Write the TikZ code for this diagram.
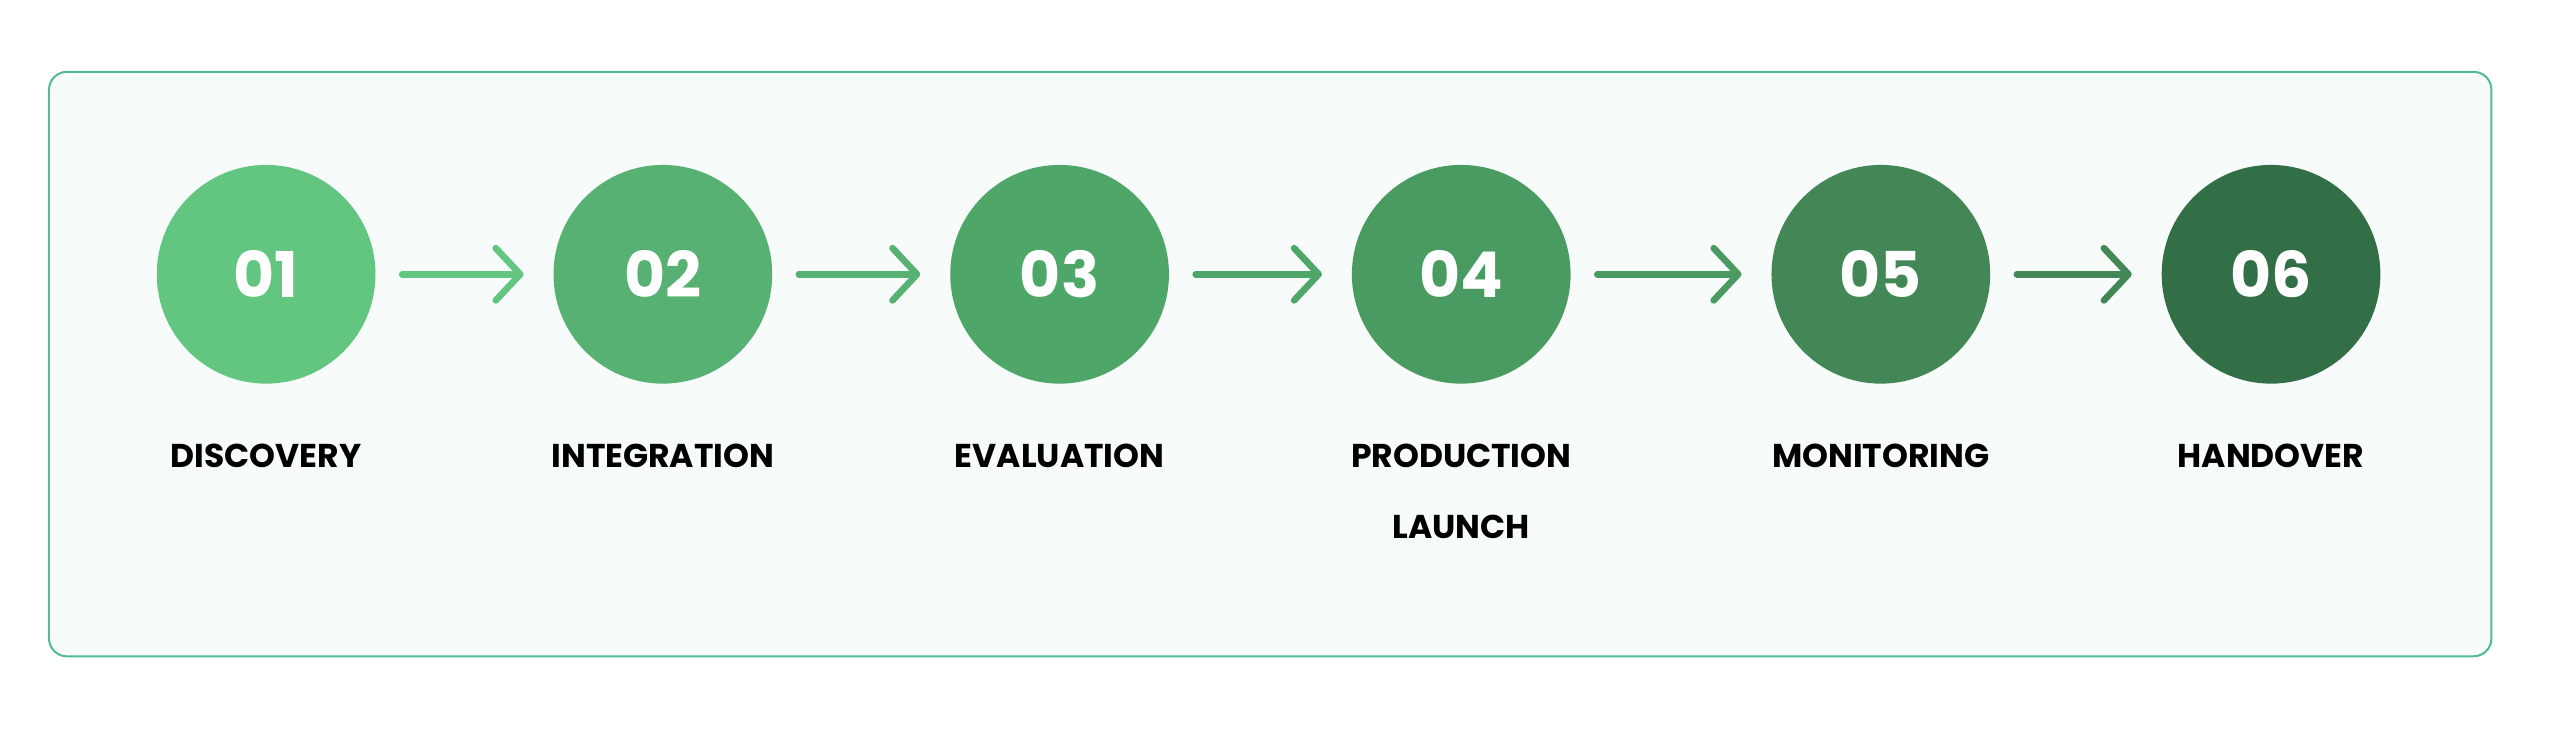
\documentclass[tikz,border=0pt]{standalone}
\usepackage{fontspec}
\setmainfont{Poppins}
\usetikzlibrary{positioning, arrows.meta}
\definecolor{frameline}{HTML}{52BC8E}
\definecolor{framefill}{HTML}{F7FBFA}
\definecolor{stepA}{HTML}{62C580}
\definecolor{stepB}{HTML}{56B173}
\definecolor{stepC}{HTML}{4FA669}
\definecolor{stepD}{HTML}{4A9B61}
\definecolor{stepE}{HTML}{428755}
\definecolor{stepF}{HTML}{326E46}
\tikzset{
	stage/.style={
		circle,
		minimum size=2.68cm,
		inner sep=0mm,
		text=white,
		font={\fontsize{22}{24}\selectfont\bfseries}
	},
	stagelabel/.style={
		align=center,
		text=black,
		font={\fontsize{11.5}{24.5}\selectfont\bfseries}
	},
	flow/.style={
		line width=2.3pt,
		line cap=round,
		shorten <=0.32cm,
		shorten >=0.36cm,
		-{Straight Barb[length=0.3cm, width=0.64cm, line cap=round, line join=round]}
	}
}

\begin{document}
\begin{tikzpicture}[x=0.02cm, y=-0.02cm]
\useasboundingbox (0,0) rectangle (1568,446);
\draw[frameline, fill=framefill, line width=0.7pt, rounded corners=0.22cm] (30,44) rectangle (1526,402);

\node(c1)[stage, fill=stepA] at (163,168) {01};
\node(c2)[stage, fill=stepB] at (406,168) {02};
\node(c3)[stage, fill=stepC] at (649,168) {03};
\node(c4)[stage, fill=stepD] at (895,168) {04};
\node(c5)[stage, fill=stepE] at (1152,168) {05};
\node(c6)[stage, fill=stepF] at (1391,168) {06};

\node(l1)[stagelabel, anchor=north] at (163,266) {DISCOVERY};
\node(l2)[stagelabel, anchor=north] at (406,266) {INTEGRATION};
\node(l3)[stagelabel, anchor=north] at (649,266) {EVALUATION};
\node(l4)[stagelabel, anchor=north] at (895,266) {PRODUCTION\\LAUNCH};
\node(l5)[stagelabel, anchor=north] at (1152,266) {MONITORING};
\node(l6)[stagelabel, anchor=north] at (1391,266) {HANDOVER};

\draw[flow, stepA] (c1) -- (c2);
\draw[flow, stepB] (c2) -- (c3);
\draw[flow, stepC] (c3) -- (c4);
\draw[flow, stepD] (c4) -- (c5);
\draw[flow, stepE] (c5) -- (c6);

\end{tikzpicture}
\end{document}
